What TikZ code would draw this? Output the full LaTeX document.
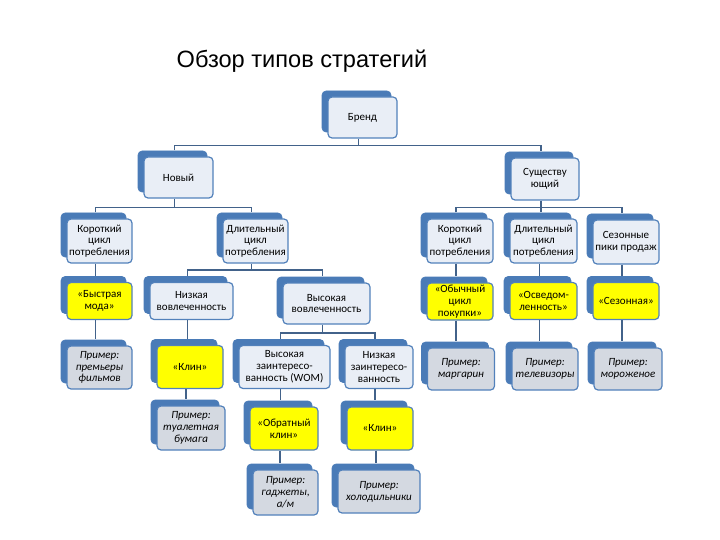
\documentclass[tikz,border=0pt]{standalone}
\usepackage{fontspec}
\setmainfont{Carlito}
\newfontfamily\titlefont{Liberation Sans}
\usetikzlibrary{shadows}
\definecolor{backcolor}{HTML}{4A7BB7}
\definecolor{edgecolor}{HTML}{5281BB}
\definecolor{linecolor}{HTML}{42628A}
\definecolor{plaincolor}{HTML}{E9EEF6}
\definecolor{stratcolor}{HTML}{FFFF00}
\definecolor{examplecolor}{HTML}{D4D9E1}

% box with its back copy, plus attach points for the connectors
\newcommand{\strbox}[5]{%
  \node[#2, minimum width=#4pt] (#1) at (#3) {#5};
  \coordinate (#1-t) at ([xshift=-4pt,yshift=6pt]#1.north);
  \coordinate (#1-b) at ([xshift=-4pt]#1.south);
}

\begin{document}
\begin{tikzpicture}[
    x=1pt, y=-1pt,
    box/.style={draw=edgecolor, line width=1.2pt, rounded corners=4pt, align=center,
                inner sep=1pt, font=\fontsize{11}{11.8}\selectfont,
                copy shadow={shadow xshift=-6pt, shadow yshift=6pt, fill=backcolor,
                             draw=backcolor, line width=0.6pt}},
    plain/.style={box, fill=plaincolor},
    strat/.style={box, fill=stratcolor},
    example/.style={box, fill=examplecolor, font=\fontsize{11}{11.8}\selectfont\itshape},
    conn/.style={draw=linecolor, line width=1.8pt}
]
    \useasboundingbox (0,0) rectangle (720,540);
    \node[font=\titlefont\fontsize{23.6}{28}\selectfont, anchor=base] (title) at (302,68) {Обзор типов стратегий};

    % --- top ---
    \strbox{brand}{plain, minimum height=41pt}{362.5,117.5}{69}{Бренд}
    \strbox{new}{plain, minimum height=41pt}{178.5,177.5}{69}{Новый}
    \strbox{exist}{plain, minimum height=42pt}{545,179}{68}{Существу\\ющий}

    % --- consumption cycle ---
    \strbox{shortL}{plain, minimum height=44pt}{99.5,241}{65}{Короткий\\цикл\\потребления}
    \strbox{longL}{plain, minimum height=44pt}{255.5,241}{65}{Длительный\\цикл\\потребления}
    \strbox{shortR}{plain, minimum height=44pt}{460,241}{66}{Короткий\\цикл\\потребления}
    \strbox{longR}{plain, minimum height=44pt}{543.5,241}{67}{Длительный\\цикл\\потребления}
    \strbox{peaks}{plain, minimum height=44pt}{626,242}{66}{Сезонные\\пики продаж}

    % --- involvement / strategies ---
    \strbox{fast}{strat, minimum height=37pt}{99.5,301}{65}{«Быстрая\\мода»}
    \strbox{lowinv}{plain, minimum height=37pt}{191.5,301}{83}{Низкая\\вовлеченность}
    \strbox{highinv}{plain, minimum height=41pt}{326.5,303.5}{87}{Высокая\\вовлеченность}
    \strbox{usual}{strat, minimum height=37pt}{460,301.5}{66}{«Обычный\\цикл\\покупки»}
    \strbox{aware}{strat, minimum height=37pt}{543.5,301}{67}{«Осведом-\\ленность»}
    \strbox{seasonal}{strat, minimum height=37pt}{626,301}{66}{«Сезонная»}

    % --- interest / examples ---
    \strbox{exFilm}{example, minimum height=43pt}{99.5,367.5}{65}{Пример:\\премьеры\\фильмов}
    \strbox{wedgeL}{strat, minimum height=43pt}{190,367}{66}{«Клин»}
    \strbox{highint}{plain, minimum height=43pt}{284.5,367}{91}{Высокая\\заинтересо-\\ванность (WOM)}
    \strbox{lowint}{plain, minimum height=43pt}{379,367}{68}{Низкая\\заинтересо-\\ванность}
    \strbox{exMarg}{example, minimum height=42pt}{461,369}{67}{Пример:\\маргарин}
    \strbox{exTV}{example, minimum height=42pt}{545,369}{66}{Пример:\\телевизоры}
    \strbox{exIce}{example, minimum height=42pt}{628,369}{68}{Пример:\\мороженое}

    \strbox{exPaper}{example, minimum height=44pt}{191,428}{68}{Пример:\\туалетная\\бумага}
    \strbox{revWedge}{strat, minimum height=43pt}{284,428.5}{68}{«Обратный\\клин»}
    \strbox{wedgeR}{strat, minimum height=43pt}{380,428.5}{66}{«Клин»}

    \strbox{exGadget}{example, minimum height=45pt}{285.5,492.5}{65}{Пример:\\гаджеты,\\а/м}
    \strbox{exFridge}{example, minimum height=43pt}{379,491.5}{82}{Пример:\\холодильники}

    % --- connectors ---
    \draw[conn] (brand-b) -- ++(0,7) coordinate (j1);
    \draw[conn] (new-t) |- (j1) -| (exist-t);

    \draw[conn] (new-b) -- ++(0,9) coordinate (j2);
    \draw[conn] (shortL-t) |- (j2) -| (longL-t);
    \draw[conn] (exist-b) -- ++(0,7) coordinate (j3);
    \draw[conn] (shortR-t) |- (j3) -| (peaks-t);
    \draw[conn] (j3) -- (j3 |- longR-t);

    \draw[conn] (shortL-b) -- (shortL-b |- fast-t);
    \draw[conn] (fast-b) -- (fast-b |- exFilm-t);
    \draw[conn] (longL-b) -- ++(0,6) coordinate (j4);
    \draw[conn] (lowinv-t) |- (j4) -| (highinv-t);
    \draw[conn] (lowinv-b) -- (lowinv-b |- wedgeL-t);
    \draw[conn] (wedgeL-b) -- (wedgeL-b |- exPaper-t);

    \draw[conn] (highinv-b) -- ++(0,8) coordinate (j5);
    \draw[conn] (highint-t) |- (j5) -| (lowint-t);
    \draw[conn] (highint-b) -- (highint-b |- revWedge-t);
    \draw[conn] (revWedge-b) -- (revWedge-b |- exGadget-t);
    \draw[conn] (lowint-b) -- (lowint-b |- wedgeR-t);
    \draw[conn] (wedgeR-b) -- (wedgeR-b |- exFridge-t);

    \draw[conn] (shortR-b) -- (shortR-b |- usual-t);
    \draw[conn] (usual-b) -- (usual-b |- exMarg-t);
    \draw[conn] (longR-b) -- (longR-b |- aware-t);
    \draw[conn] (aware-b) -- (aware-b |- exTV-t);
    \draw[conn] (peaks-b) -- (peaks-b |- seasonal-t);
    \draw[conn] (seasonal-b) -- (seasonal-b |- exIce-t);
\end{tikzpicture}
\end{document}
